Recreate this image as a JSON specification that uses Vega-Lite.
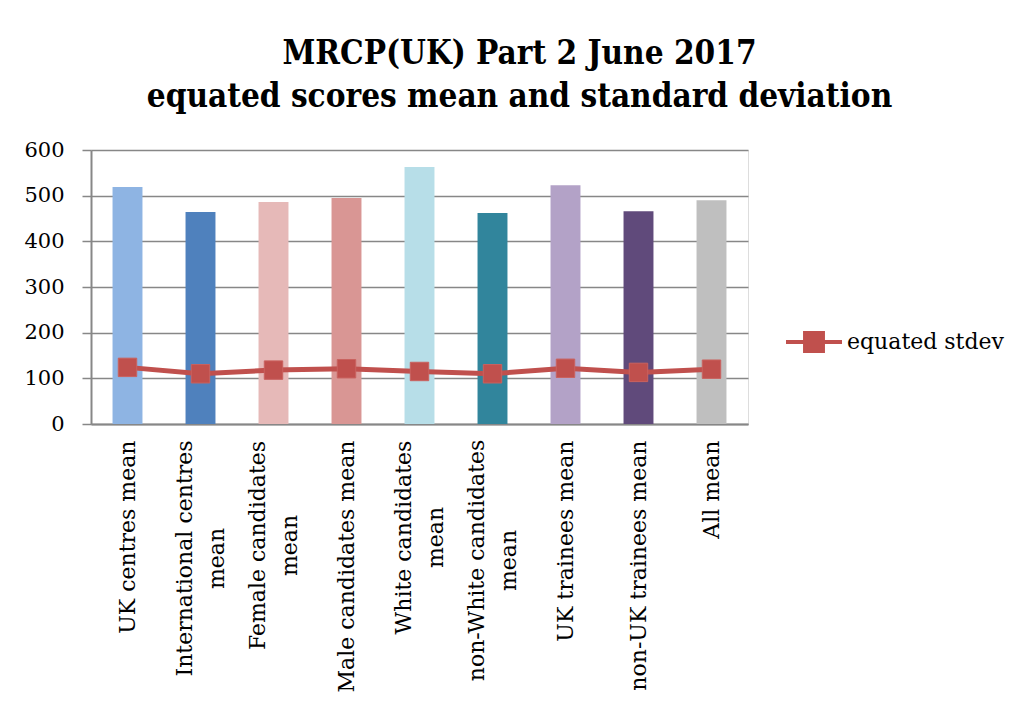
{
  "$schema": "https://vega.github.io/schema/vega-lite/v6.json",
  "width": 657,
  "height": 274,
  "autosize": "none",
  "padding": {"left": 91, "top": 150, "right": 273, "bottom": 280},
  "background": "white",
  "title": {
    "text": ["MRCP(UK) Part 2 June 2017", "equated scores mean and standard deviation"],
    "font": "DejaVu Serif Condensed",
    "fontWeight": "bold",
    "fontSize": 33,
    "lineHeight": 43,
    "color": "black",
    "anchor": "middle",
    "frame": "group",
    "dx": 100,
    "offset": 25
  },
  "data": {
    "values": [
      {"group": "UK centres mean", "mean": 519, "stdev": 124},
      {"group": "International centres mean", "mean": 464, "stdev": 110},
      {"group": "Female candidates mean", "mean": 486, "stdev": 118},
      {"group": "Male candidates mean", "mean": 495, "stdev": 121},
      {"group": "White candidates mean", "mean": 563, "stdev": 115},
      {"group": "non-White candidates mean", "mean": 462, "stdev": 110},
      {"group": "UK trainees mean", "mean": 523, "stdev": 122},
      {"group": "non-UK trainees mean", "mean": 466, "stdev": 113},
      {"group": "All mean", "mean": 490, "stdev": 120}
    ]
  },
  "encoding": {
    "x": {
      "field": "group",
      "type": "nominal",
      "sort": null,
      "scale": {"paddingInner": 0.59, "paddingOuter": 0.295},
      "axis": {
        "title": null,
        "labelAngle": -90,
        "labelAlign": {"condition": {"test": "length(datum.value) > 20", "value": "center"}, "value": "right"},
        "labelBaseline": "middle",
        "labelFont": "DejaVu Serif",
        "labelFontSize": 22,
        "labelColor": "black",
        "labelLineHeight": 32,
        "labelPadding": {
          "condition": [
            {"test": "datum.value === 'International centres mean'", "value": 134},
            {"test": "datum.value === 'Female candidates mean'", "value": 121},
            {"test": "datum.value === 'White candidates mean'", "value": 113},
            {"test": "datum.value === 'non-White candidates mean'", "value": 136}
          ],
          "value": 16
        },
        "labelOffset": {"condition": {"test": "length(datum.value) > 20", "value": -16}, "value": 0},
        "labelLimit": 400,
        "ticks": false,
        "domainColor": "#878787",
        "domainWidth": 2,
        "labelExpr": "length(datum.label) > 20 ? [slice(datum.label, 0, lastindexof(datum.label, ' ')), slice(datum.label, lastindexof(datum.label, ' ') + 1)] : datum.label"
      }
    }
  },
  "layer": [
    {
      "mark": {"type": "bar"},
      "encoding": {
        "y": {
          "field": "mean",
          "type": "quantitative",
          "scale": {"domain": [0, 600], "nice": false},
          "axis": {
            "title": null,
            "values": [0, 100, 200, 300, 400, 500, 600],
            "labelFont": "DejaVu Serif",
            "labelFontSize": 21,
            "labelColor": "black",
            "labelPadding": 18,
            "tickSize": 9,
            "tickColor": "#878787",
            "tickWidth": 1.5,
            "domainColor": "#878787",
            "domainWidth": 2,
            "grid": true,
            "gridColor": "#878787",
            "gridWidth": 1.5
          }
        },
        "fill": {
          "field": "group",
          "type": "nominal",
          "legend": null,
          "scale": {
            "domain": ["UK centres mean", "International centres mean", "Female candidates mean", "Male candidates mean", "White candidates mean", "non-White candidates mean", "UK trainees mean", "non-UK trainees mean", "All mean"],
            "range": ["#8EB4E3", "#4F81BD", "#E6B9B8", "#D99694", "#B7DEE8", "#31859C", "#B3A2C7", "#604A7B", "#BFBFBF"]
          }
        }
      }
    },
    {
      "mark": {"type": "line", "strokeWidth": 5},
      "encoding": {
        "y": {"field": "stdev", "type": "quantitative"},
        "color": {
          "datum": "equated stdev",
          "scale": {"range": ["#C0504D"]},
          "legend": {
            "title": null,
            "orient": "none",
            "legendX": 693,
            "legendY": 162,
            "padding": 0,
            "symbolType": "M-1,0H1M-0.32,-0.32H0.32V0.32H-0.32Z",
            "symbolSize": 3136,
            "labelFont": "DejaVu Serif",
            "labelFontSize": 22,
            "labelColor": "black",
            "labelOffset": 3,
            "labelLimit": 300,
            "encode": {
              "symbols": {
                "update": {
                  "fill": {"value": "#C0504D"},
                  "stroke": {"value": "#C0504D"},
                  "strokeWidth": {"value": 4},
                  "opacity": {"value": 1}
                }
              }
            }
          }
        }
      }
    },
    {
      "mark": {"type": "point", "shape": "square", "filled": true, "size": 340, "opacity": 1, "stroke": "#C9625F", "strokeWidth": 1},
      "encoding": {
        "y": {"field": "stdev", "type": "quantitative"},
        "color": {"datum": "equated stdev"}
      }
    }
  ]
}
